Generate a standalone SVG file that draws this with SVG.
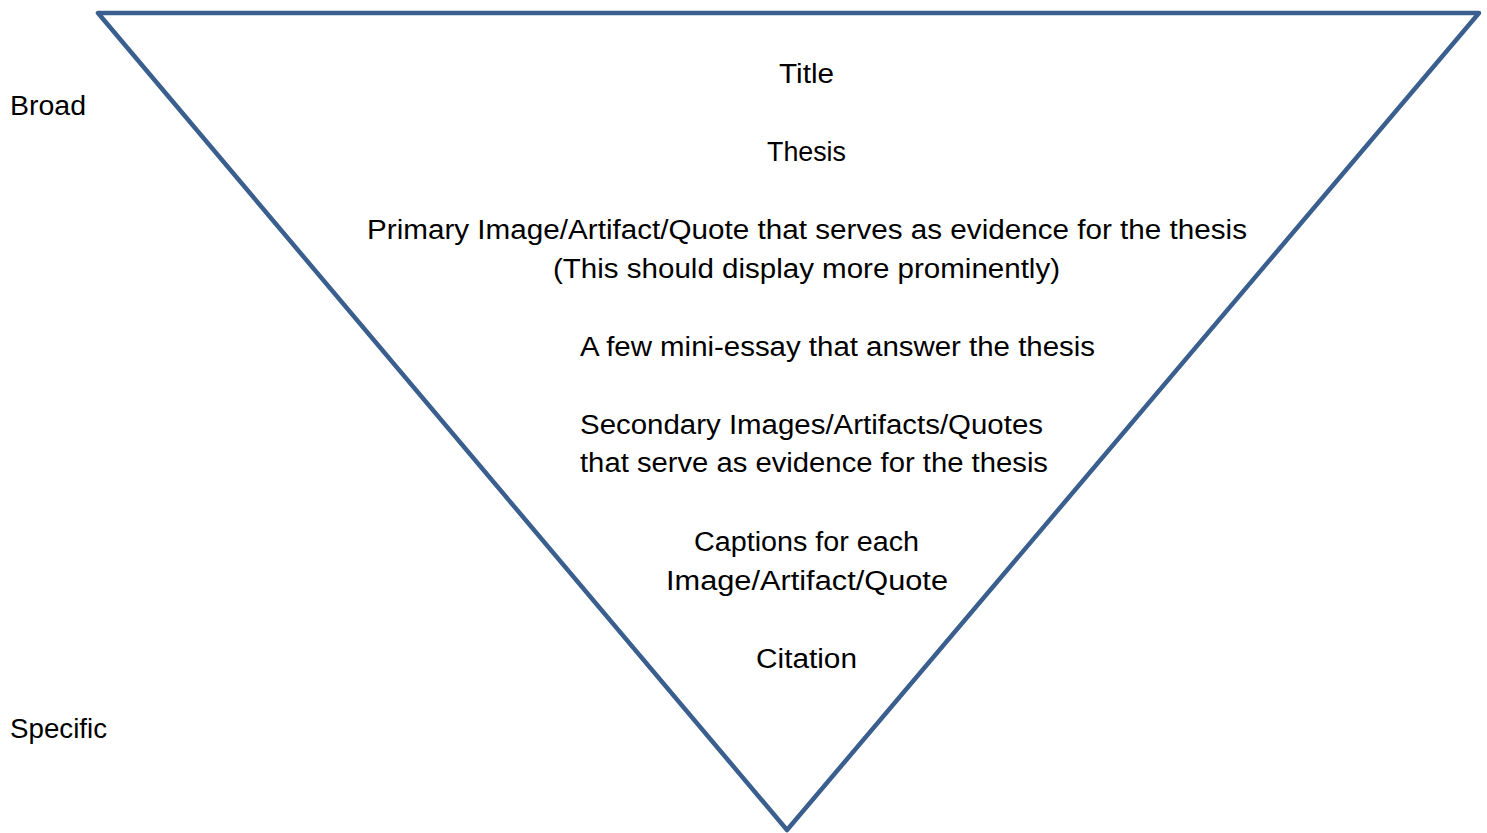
<svg xmlns="http://www.w3.org/2000/svg" width="1487" height="833" viewBox="0 0 1487 833">
  <style>
    .lbl { font-family: "Liberation Sans", Arial, sans-serif; font-size: 27px; fill: #000; }
    .mid { text-anchor: middle; }
    .tri { fill: none; stroke: #3A5F8E; stroke-width: 4.5; stroke-linejoin: round; }
  </style>
  <rect width="1487" height="833" fill="#fff"/>

  <!-- inverted pyramid -->
  <g id="pyramid">
    <polygon class="tri" points="98,13 1479,13 787,830"/>
  </g>

  <!-- side scale -->
  <g id="scale">
    <text class="lbl" x="10" y="115" textLength="76" lengthAdjust="spacingAndGlyphs">Broad</text>
    <text class="lbl" x="10" y="738" textLength="97" lengthAdjust="spacingAndGlyphs">Specific</text>
  </g>

  <!-- layers, broad to specific -->
  <g id="title">
    <text class="lbl" x="779" y="83" textLength="55" lengthAdjust="spacingAndGlyphs">Title</text>
  </g>
  <g id="thesis">
    <text class="lbl" x="767" y="161" textLength="79" lengthAdjust="spacingAndGlyphs">Thesis</text>
  </g>
  <g id="primary">
    <text class="lbl" x="367" y="239" textLength="880" lengthAdjust="spacingAndGlyphs">Primary Image/Artifact/Quote that serves as evidence for the thesis</text>
    <text class="lbl" x="553" y="278" textLength="507" lengthAdjust="spacingAndGlyphs">(This should display more prominently)</text>
  </g>
  <g id="essays">
    <text class="lbl" x="580" y="356" textLength="515" lengthAdjust="spacingAndGlyphs">A few mini-essay that answer the thesis</text>
  </g>
  <g id="secondary">
    <text class="lbl" x="580" y="434" textLength="463" lengthAdjust="spacingAndGlyphs">Secondary Images/Artifacts/Quotes</text>
    <text class="lbl" x="580" y="472" textLength="468" lengthAdjust="spacingAndGlyphs">that serve as evidence for the thesis</text>
  </g>
  <g id="captions">
    <text class="lbl" x="694" y="551" textLength="225" lengthAdjust="spacingAndGlyphs">Captions for each</text>
    <text class="lbl" x="666" y="590" textLength="282" lengthAdjust="spacingAndGlyphs">Image/Artifact/Quote</text>
  </g>
  <g id="citation">
    <text class="lbl" x="756" y="668" textLength="101" lengthAdjust="spacingAndGlyphs">Citation</text>
  </g>
</svg>
